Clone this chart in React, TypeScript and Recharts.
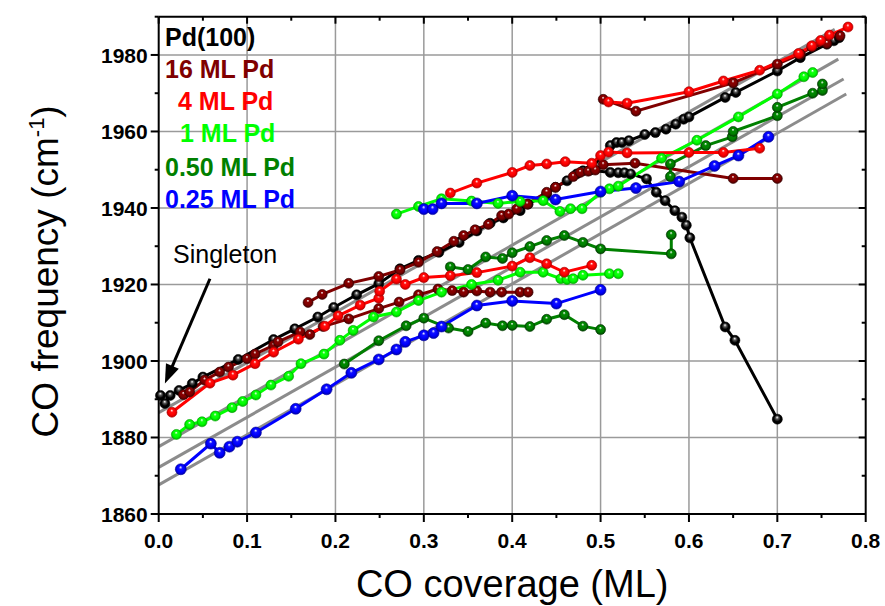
import React from 'react';
import { LineChart, Line, XAxis, YAxis, CartesianGrid, ReferenceLine } from 'recharts';

// plot frame, in px
const W = 885;
const H = 606;
const PLOT_LEFT = 158.7;
const PLOT_RIGHT = 865.7;
const PLOT_TOP = 16.7;
const PLOT_BOTTOM = 514;
const FONT = '"Liberation Sans", Arial, Helvetica, sans-serif';

const xTicks = [0, 0.05, 0.1, 0.15, 0.2, 0.25, 0.3, 0.35, 0.4, 0.45, 0.5, 0.55, 0.6, 0.65, 0.7, 0.75, 0.8];
const yTicks = [1860, 1870, 1880, 1890, 1900, 1910, 1920, 1930, 1940, 1950, 1960, 1970, 1980, 1990];
const gridX = [0.1, 0.2, 0.3, 0.4, 0.5, 0.6, 0.7];
const gridY = [1880, 1900, 1920, 1940, 1960, 1980];

// Pd(100)
const pd100Up = [
  [0.002, 1891], [0.007, 1888.9], [0.013, 1891], [0.023, 1892.3], [0.038, 1894.1], [0.05, 1895.8],
  [0.09, 1900.4], [0.13, 1905.6], [0.154, 1908.4], [0.18, 1911.5], [0.198, 1914], [0.224, 1917.3],
  [0.249, 1920.2], [0.273, 1924.1], [0.294, 1926.3], [0.317, 1928.4], [0.34, 1931], [0.36, 1934],
  [0.375, 1936], [0.39, 1937.4], [0.409, 1939.3], [0.418, 1941], [0.439, 1943.7], [0.449, 1945.4],
  [0.462, 1947.1], [0.473, 1948.9], [0.48, 1949.7], [0.488, 1949.9], [0.511, 1956.3], [0.518, 1957.1],
  [0.524, 1957.1], [0.532, 1957.6], [0.55, 1959.2], [0.562, 1959.7], [0.574, 1960.6], [0.585, 1961.9],
  [0.594, 1963.2], [0.6, 1963.8], [0.641, 1968.9], [0.653, 1970.2], [0.7, 1975.8], [0.726, 1979.3],
  [0.756, 1982.8], [0.764, 1983.7], [0.77, 1984.5],
];
const pd100Down = [
  [0.488, 1949.9], [0.511, 1949.3], [0.52, 1949.2], [0.527, 1949.2], [0.534, 1948.9], [0.552, 1947.6],
  [0.563, 1944.1], [0.573, 1941.9], [0.584, 1939.3], [0.592, 1937.6], [0.597, 1935.5], [0.601, 1932.2],
  [0.641, 1908.9], [0.652, 1905.4], [0.7, 1884.8],
];

// 16 ML Pd
const ml16a = [
  [0.028, 1891.2], [0.035, 1891.9], [0.052, 1895], [0.069, 1897.1], [0.079, 1898.4], [0.1, 1900.6],
  [0.109, 1901.8], [0.13, 1904.1], [0.135, 1905], [0.16, 1907.6], [0.171, 1906.9], [0.186, 1909],
  [0.215, 1911], [0.249, 1913.7], [0.272, 1915.4], [0.294, 1917.3], [0.316, 1918.8], [0.332, 1918.4],
  [0.345, 1918], [0.36, 1918.3], [0.375, 1918], [0.388, 1918], [0.409, 1918], [0.418, 1918],
];
const ml16b = [
  [0.169, 1915.3], [0.185, 1917.4], [0.215, 1920.3], [0.249, 1922.1], [0.273, 1923.8], [0.294, 1925.8],
  [0.315, 1928.6], [0.334, 1931.3], [0.345, 1932.8], [0.358, 1934.3], [0.373, 1935.7], [0.388, 1938],
  [0.396, 1938.4], [0.405, 1939.7], [0.417, 1941], [0.439, 1944.1], [0.449, 1945.4], [0.469, 1948.2],
  [0.477, 1949.3], [0.486, 1949.6], [0.494, 1949.9], [0.503, 1951.3], [0.539, 1951.7], [0.65, 1947.7],
  [0.7, 1947.7],
];
const ml16c = [
  [0.503, 1968.4], [0.54, 1965.3], [0.65, 1972.7], [0.7, 1977.6], [0.726, 1980.2], [0.739, 1982.1],
  [0.756, 1983], [0.771, 1985],
];

// 4 ML Pd
const ml4a = [
  [0.509, 1967.7], [0.53, 1967.4], [0.6, 1970.4], [0.639, 1973.2], [0.68, 1976], [0.724, 1980.4],
  [0.739, 1982.4], [0.749, 1983.8], [0.759, 1985.2], [0.78, 1987.3],
];
const ml4b = [
  [0.33, 1943.9], [0.36, 1946.5], [0.4, 1949.3], [0.42, 1951.1], [0.439, 1951.5], [0.46, 1952.1],
  [0.49, 1951.7], [0.5, 1953.7], [0.509, 1954.6], [0.53, 1954.4], [0.6, 1954.5], [0.639, 1954.5],
  [0.68, 1955.6],
];
const ml4c = [
  [0.015, 1886.6], [0.058, 1894.2], [0.084, 1896.3], [0.109, 1899.3], [0.13, 1902.3], [0.158, 1905.7],
  [0.188, 1909.1], [0.203, 1911.8], [0.228, 1914.6], [0.249, 1916.4], [0.25, 1918.2], [0.269, 1921.4],
  [0.279, 1920], [0.3, 1921.8], [0.33, 1922.3], [0.36, 1923.1], [0.4, 1924.8], [0.42, 1927],
  [0.439, 1925.4], [0.459, 1923.2], [0.49, 1925],
];

// 1 ML Pd
const ml1a = [
  [0.02, 1880.8], [0.035, 1883.4], [0.049, 1884.1], [0.064, 1885.6], [0.083, 1887.8], [0.095, 1889.4],
  [0.11, 1891.1], [0.127, 1893.7], [0.147, 1896], [0.161, 1899.3], [0.187, 1901.8], [0.205, 1905.4],
  [0.22, 1908], [0.243, 1911.5], [0.269, 1912.8], [0.294, 1915.8], [0.32, 1918], [0.354, 1920],
  [0.384, 1921.1], [0.409, 1923.2], [0.435, 1923.2], [0.455, 1921.5], [0.462, 1921.3], [0.469, 1921.5],
  [0.48, 1922.4], [0.51, 1922.8], [0.52, 1922.8],
];
const ml1b = [
  [0.269, 1938.4], [0.294, 1940.4], [0.32, 1942.4], [0.354, 1941.8], [0.384, 1941.2], [0.409, 1941.7],
  [0.435, 1941.9], [0.454, 1939.1], [0.466, 1939.8], [0.479, 1939.8], [0.5, 1944.1], [0.51, 1945],
  [0.52, 1945.7], [0.569, 1953], [0.609, 1957.7], [0.656, 1963.8], [0.7, 1969.8], [0.73, 1974.3],
  [0.74, 1975.4],
];

// 0.50 ML Pd
const ml050a = [
  [0.21, 1899.2], [0.249, 1905.3], [0.28, 1909.2], [0.3, 1911.2], [0.328, 1908.6], [0.35, 1907.7],
  [0.37, 1909.9], [0.389, 1909.2], [0.4, 1909.3], [0.42, 1909], [0.439, 1910.9], [0.459, 1912.1],
  [0.48, 1909.1], [0.5, 1908.2],
];
const ml050b = [
  [0.33, 1924.6], [0.35, 1923.9], [0.37, 1927.2], [0.389, 1926.8], [0.4, 1928.3], [0.42, 1929.9],
  [0.439, 1931.5], [0.459, 1932.8], [0.48, 1931], [0.5, 1929.3], [0.58, 1928], [0.58, 1933],
];
const ml050c = [
  [0.579, 1948.2], [0.579, 1951.5], [0.619, 1956.3], [0.649, 1958.6], [0.65, 1960], [0.7, 1964.1],
  [0.7, 1966.3], [0.74, 1970], [0.751, 1970.7], [0.751, 1972.4],
];

// 0.25 ML Pd
const ml025a = [
  [0.025, 1871.7], [0.059, 1878.4], [0.069, 1876], [0.08, 1877.6], [0.089, 1878.9], [0.11, 1881.3],
  [0.155, 1887.5], [0.19, 1892.6], [0.218, 1896.9], [0.249, 1900.4], [0.269, 1903], [0.279, 1905],
  [0.3, 1906.7], [0.311, 1907.3], [0.32, 1909], [0.36, 1914.5], [0.4, 1915.7], [0.45, 1915],
  [0.5, 1918.6],
];
const ml025b = [
  [0.3, 1939.7], [0.31, 1939.7], [0.32, 1941.2], [0.36, 1941.2], [0.4, 1943.2], [0.449, 1942.2],
  [0.5, 1944.3], [0.54, 1945.2], [0.589, 1946.9], [0.629, 1951], [0.656, 1953.7], [0.69, 1958.6],
];

// linear fits
const fit1 = [[0, 1886.5], [0.765, 1986.7]];
const fit2 = [[0, 1877.6], [0.769, 1978.9]];
const fit3 = [[0, 1872.2], [0.775, 1973.7]];
const fit4 = [[0, 1867.6], [0.778, 1969.8]];

const singletonArrow = [{ x: 0.058, y: 1921.5 }, { x: 0.007, y: 1894.1 }];

const toPts = (arr: number[][]) => arr.map(([x, y]) => ({ x, y }));

const COLORS = {
  black: { main: '#000000', mid: '#555555', dark: '#000000' },
  darkred: { main: '#800000', mid: '#8a0000', dark: '#3a0000' },
  red: { main: '#ff0000', mid: '#ff1010', dark: '#b00000' },
  lime: { main: '#00ff00', mid: '#10ff10', dark: '#00a800' },
  green: { main: '#008000', mid: '#008a00', dark: '#003a00' },
  blue: { main: '#0000ff', mid: '#1010ff', dark: '#0000a0' },
};

const series = [
  { key: 'pd100Up', data: pd100Up, c: 'black' },
  { key: 'pd100Down', data: pd100Down, c: 'black' },
  { key: 'ml16a', data: ml16a, c: 'darkred' },
  { key: 'ml16b', data: ml16b, c: 'darkred' },
  { key: 'ml16c', data: ml16c, c: 'darkred' },
  { key: 'ml1a', data: ml1a, c: 'lime' },
  { key: 'ml1b', data: ml1b, c: 'lime' },
  { key: 'ml050a', data: ml050a, c: 'green' },
  { key: 'ml050b', data: ml050b, c: 'green' },
  { key: 'ml050c', data: ml050c, c: 'green' },
  { key: 'ml025a', data: ml025a, c: 'blue' },
  { key: 'ml025b', data: ml025b, c: 'blue' },
  { key: 'ml4c', data: ml4c, c: 'red' },
  { key: 'ml4b', data: ml4b, c: 'red' },
  { key: 'ml4a', data: ml4a, c: 'red' },
];

const fits = [fit1, fit2, fit3, fit4];

const YTick = (props: any) => {
  const { x, y, payload } = props;
  const v = payload.value;
  const major = v % 20 === 0;
  return (
    <g>
      <line x1={x} x2={x - (major ? 8 : 4)} y1={y} y2={y} stroke="#000" strokeWidth={2} />
      <line x1={PLOT_RIGHT} x2={PLOT_RIGHT - (major ? 7 : 4)} y1={y} y2={y} stroke="#000" strokeWidth={2} />
      {major && (
        <text x={x - 11} y={y} dy="0.36em" textAnchor="end" fontFamily={FONT} fontWeight="bold" fontSize={21} fill="#000">
          {v}
        </text>
      )}
    </g>
  );
};

const XTick = (props: any) => {
  const { x, y, payload } = props;
  const v = payload.value;
  const major = Math.round(v * 100) % 10 === 0;
  return (
    <g>
      <line x1={x} x2={x} y1={y} y2={y + (major ? 8 : 4)} stroke="#000" strokeWidth={2} />
      <line x1={x} x2={x} y1={PLOT_TOP} y2={PLOT_TOP + (major ? 7 : 4)} stroke="#000" strokeWidth={2} />
      {major && (
        <text x={x} y={y + 34} textAnchor="middle" fontFamily={FONT} fontWeight="bold" fontSize={21} fill="#000">
          {v.toFixed(1)}
        </text>
      )}
    </g>
  );
};

const Arrow = (p: any) => {
  const { x1, y1, x2, y2 } = p;
  const dx = x2 - x1;
  const dy = y2 - y1;
  const len = Math.hypot(dx, dy) || 1;
  const ux = dx / len;
  const uy = dy / len;
  const hl = 19;
  const hw = 7;
  const bx = x2 - ux * hl;
  const by = y2 - uy * hl;
  return (
    <g>
      <line x1={x1} y1={y1} x2={bx + ux * 2} y2={by + uy * 2} stroke="#000" strokeWidth={3} />
      <polygon points={`${x2},${y2} ${bx - uy * hw},${by + ux * hw} ${bx + uy * hw},${by - ux * hw}`} fill="#000" />
    </g>
  );
};

const legend = [
  { text: 'Pd(100)', x: 165, y: 46, color: '#000000' },
  { text: '16 ML Pd', x: 165, y: 78, color: '#800000' },
  { text: '4 ML Pd', x: 178, y: 110, color: '#ff0000' },
  { text: '1 ML Pd', x: 180, y: 142, color: '#00ff00' },
  { text: '0.50 ML Pd', x: 165, y: 176, color: '#008000' },
  { text: '0.25 ML Pd', x: 165, y: 208, color: '#0000ff' },
];

export default function App() {
  return (
    <div style={{ position: 'absolute', left: 0, top: 0, width: W, height: H, background: '#fff' }}>
      <LineChart
        width={W}
        height={H}
        margin={{ top: PLOT_TOP, right: W - PLOT_RIGHT, bottom: 0, left: 0 }}
      >
        <defs>
          {Object.entries(COLORS).map(([k, c]) => (
            <radialGradient key={k} id={`dot-${k}`} cx="50%" cy="50%" r="55%" fx="48%" fy="30%">
              <stop offset="0%" stopColor="#ffffff" />
              <stop offset="28%" stopColor={c.mid} />
              <stop offset="60%" stopColor={c.main} />
              <stop offset="100%" stopColor={c.dark} />
            </radialGradient>
          ))}
        </defs>
        <CartesianGrid
          stroke="#9a9a9a"
          strokeWidth={1.5}
          horizontalValues={gridY}
          verticalValues={gridX}
        />
        <XAxis
          type="number"
          dataKey="x"
          domain={[0, 0.8]}
          ticks={xTicks}
          interval={0}
          tickSize={0}
          tickMargin={0}
          tick={XTick}
          height={H - PLOT_BOTTOM}
          axisLine={{ stroke: '#000', strokeWidth: 2 }}
        />
        <YAxis
          type="number"
          dataKey="y"
          domain={[1860, 1990]}
          ticks={yTicks}
          interval={0}
          tickSize={0}
          tickMargin={0}
          tick={YTick}
          width={PLOT_LEFT}
          axisLine={{ stroke: '#000', strokeWidth: 2 }}
        />
        {fits.map((f, i) => (
          <Line
            key={`fit${i}`}
            data={toPts(f)}
            dataKey="y"
            type="linear"
            stroke="#8c8c8c"
            strokeWidth={3}
            dot={false}
            activeDot={false}
            isAnimationActive={false}
          />
        ))}
        {series.map((s) => {
          const c = (COLORS as any)[s.c];
          return (
            <Line
              key={s.key}
              data={toPts(s.data)}
              dataKey="y"
              type="linear"
              stroke={c.main}
              strokeWidth={3}
              dot={{ r: s.c === 'blue' ? 5.5 : 5, fill: `url(#dot-${s.c})`, stroke: c.dark, strokeWidth: 0.6 }}
              activeDot={false}
              isAnimationActive={false}
            />
          );
        })}
        <ReferenceLine y={1990} stroke="#000" strokeWidth={2} />
        <ReferenceLine x={0.8} stroke="#000" strokeWidth={2} />
        <ReferenceLine segment={singletonArrow} shape={Arrow} />
        {legend.map((l) => (
          <text key={l.text} x={l.x} y={l.y} fontFamily={FONT} fontWeight="bold" fontSize={25} fill={l.color}>
            {l.text}
          </text>
        ))}
        <text x={173} y={263} fontFamily={FONT} fontSize={25} fill="#000">
          Singleton
        </text>
        <text x={(PLOT_LEFT + PLOT_RIGHT) / 2} y={597} textAnchor="middle" fontFamily={FONT} fontSize={38} fill="#000">
          CO coverage (ML)
        </text>
        <text
          transform={`translate(58, ${(PLOT_TOP + PLOT_BOTTOM) / 2 + 6}) rotate(-90)`}
          textAnchor="middle"
          fontFamily={FONT}
          fontSize={37}
          fill="#000"
        >
          CO frequency (cm
          <tspan dy={-14} fontSize={22}>-1</tspan>
          <tspan dy={14}>)</tspan>
        </text>
      </LineChart>
    </div>
  );
}
